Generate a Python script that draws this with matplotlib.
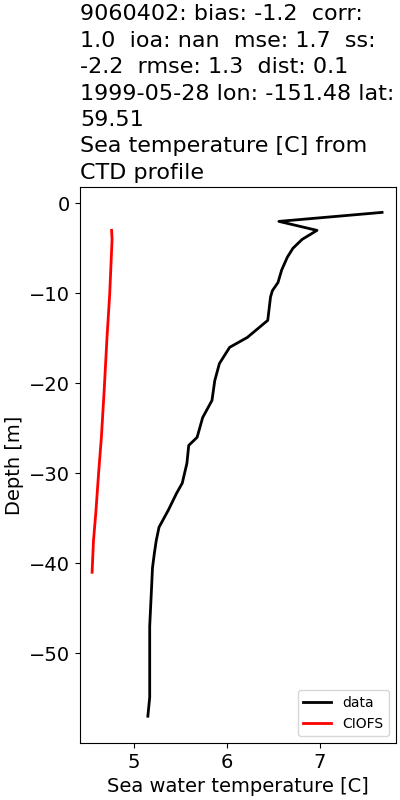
import matplotlib
matplotlib.use("Agg")
import matplotlib.pyplot as plt

data_depth = [-1, -2, -3, -4, -5, -6, -7.4, -8.8, -9.7, -10.4, -13, -14.9, -16, -17.8, -19.7,
              -21.9, -23.8, -26, -26.9, -28.9, -31.1, -32.2, -34.1, -36, -37.5, -38.9, -40.5, -42.7,
              -47, -50.8, -54.9, -57]
data_temp = [7.67, 6.56, 6.97, 6.81, 6.71, 6.65, 6.59, 6.55, 6.49, 6.47, 6.44, 6.22, 6.03, 5.92, 5.87,
             5.84, 5.74, 5.68, 5.59, 5.57, 5.52, 5.46, 5.37, 5.27, 5.24, 5.22, 5.20, 5.19,
             5.17, 5.17, 5.17, 5.15]

model_depth = [-3, -4, -10, -15, -20.8, -26, -30, -34.4, -37.5, -41]
model_temp = [4.76, 4.765, 4.74, 4.71, 4.68, 4.65, 4.62, 4.59, 4.565, 4.55]

title = ("9060402: bias: -1.2  corr:\n1.0  ioa: nan  mse: 1.7  ss:\n-2.2  rmse: 1.3  dist: 0.1\n"
         "1999-05-28 lon: -151.48 lat:\n59.51\nSea temperature [C] from\nCTD profile")

fig = plt.figure(figsize=(4, 8), dpi=100)
ax = fig.add_axes([0.2, 0.071, 0.79, 0.695])
ax.plot(data_temp, data_depth, color="black", lw=2, label="data")
ax.plot(model_temp, model_depth, color="red", lw=2, label="CIOFS")
ax.set_xlim(4.42, 7.82)
ax.set_ylim(-60, 1.8)
ax.set_xticks([5, 6, 7])
ax.set_yticks([0, -10, -20, -30, -40, -50])
ax.tick_params(labelsize=14)
ax.set_xlabel("Sea water temperature [C]", fontsize=14)
ax.set_ylabel("Depth [m]", fontsize=14)
ax.set_title(title, loc="left", fontsize=16, linespacing=1.4)
ax.legend(loc="lower right", fontsize=10)
fig.savefig("out.png", dpi=100)
